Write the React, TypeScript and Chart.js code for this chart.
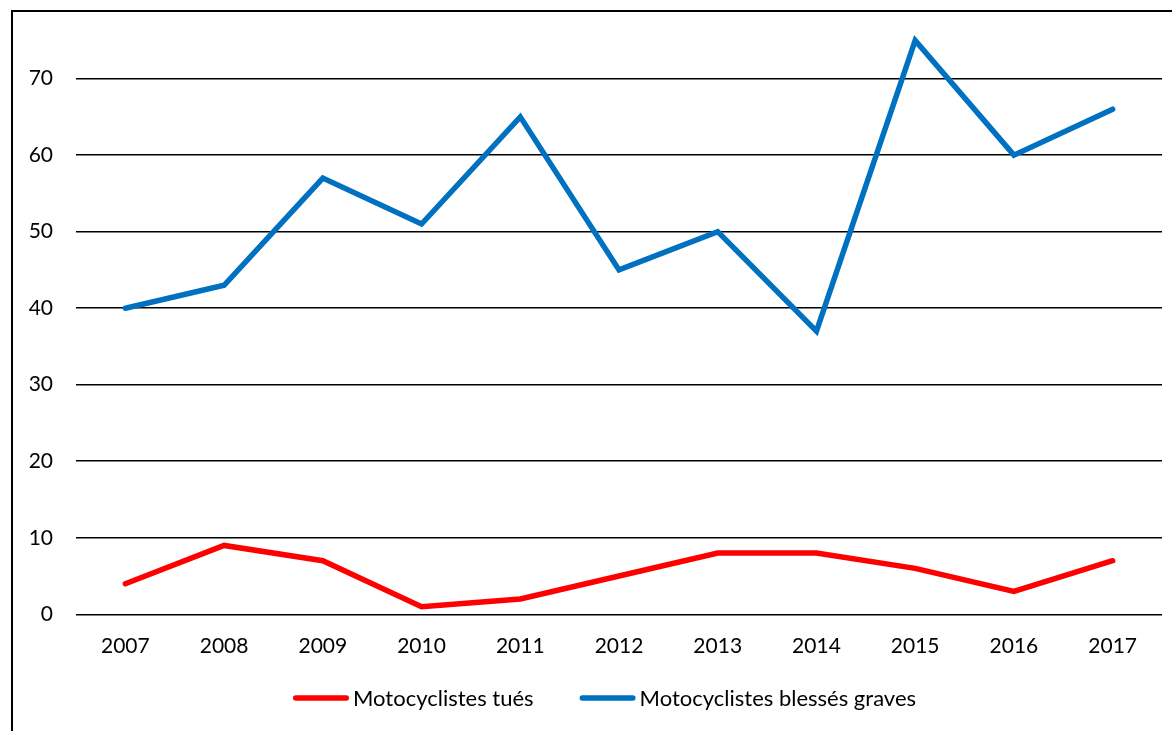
import React, { useEffect, useRef } from "react";
import { Chart, registerables } from "chart.js";

Chart.register(...registerables);

const years = ["2007", "2008", "2009", "2010", "2011", "2012", "2013", "2014", "2015", "2016", "2017"];
const tues = [4, 9, 7, 1, 2, 5, 8, 8, 6, 3, 7];
const blesses = [40, 43, 57, 51, 65, 45, 50, 37, 75, 60, 66];
const seriesNames = ["Motocyclistes tués", "Motocyclistes blessés graves"];
const seriesColors = ["#FF0000", "#0070C0"];
const yStep = 10;

const FONT = "Lato, 'Open Sans', sans-serif";
const LINE_W = 5.5;

const framePlugin = {
  id: "frame",
  afterDraw(chart: any) {
    const ctx = chart.ctx;
    ctx.save();
    ctx.strokeStyle = "#000";
    ctx.lineWidth = 2;
    ctx.strokeRect(12, 11, chart.width + 20, chart.height + 20);
    ctx.restore();
  },
};

// Legend drawn from the datasets (line sample + label), centred under the chart
const legendPlugin = {
  id: "lineLegend",
  afterDraw(chart: any) {
    const ctx = chart.ctx;
    const sets = chart.data.datasets;
    const lineLen = 56;
    const gapText = 4;
    const gapItem = 46;
    const centerX = 604.5;
    const lineY = 698;
    const baseY = 706;
    ctx.save();
    ctx.font = `22px ${FONT}`;
    const widths = sets.map((d: any) => ctx.measureText(d.label).width);
    let total = 0;
    widths.forEach((w: number, i: number) => {
      total += lineLen + gapText + w + (i < widths.length - 1 ? gapItem : 0);
    });
    let x = centerX - total / 2;
    sets.forEach((d: any, i: number) => {
      ctx.strokeStyle = d.borderColor;
      ctx.lineWidth = LINE_W;
      ctx.lineCap = "round";
      ctx.beginPath();
      ctx.moveTo(x + 2.75, lineY);
      ctx.lineTo(x + lineLen - 2.75, lineY);
      ctx.stroke();
      x += lineLen + gapText;
      ctx.fillStyle = "#000";
      ctx.textAlign = "left";
      ctx.textBaseline = "alphabetic";
      ctx.fillText(d.label, x, baseY);
      x += widths[i] + gapItem;
    });
    ctx.restore();
  },
};

export default function App() {
  const ref = useRef<HTMLCanvasElement | null>(null);
  useEffect(() => {
    document.body.style.margin = "0";
    const canvas = ref.current!;
    const chart = new Chart(canvas, {
      type: "line",
      data: {
        labels: years,
        datasets: [
          {
            label: seriesNames[0],
            data: tues,
            borderColor: seriesColors[0],
            backgroundColor: seriesColors[0],
            borderWidth: LINE_W,
            borderCapStyle: "round",
            borderJoinStyle: "miter",
            pointRadius: 0,
            tension: 0,
          },
          {
            label: seriesNames[1],
            data: blesses,
            borderColor: seriesColors[1],
            backgroundColor: seriesColors[1],
            borderWidth: LINE_W,
            borderCapStyle: "round",
            borderJoinStyle: "miter",
            pointRadius: 0,
            tension: 0,
          },
        ],
      },
      options: {
        animation: false,
        responsive: false,
        devicePixelRatio: 1,
        layout: { padding: { left: 0, right: 10, top: 17.4, bottom: 53.5 } },
        plugins: {
          tooltip: { enabled: false },
          legend: { display: false },
        },
        scales: {
          x: {
            offset: true,
            grid: { display: false, drawTicks: false },
            border: { display: false },
            ticks: {
              color: "#000",
              padding: 19,
              maxRotation: 0,
              font: { family: FONT, size: 21 },
            },
            afterFit(scale: any) {
              scale.height = 63.2;
            },
          },
          y: {
            min: 0,
            max: 78,
            bounds: "data",
            grid: {
              color: "#000",
              lineWidth: 1.5,
              drawTicks: true,
              tickLength: 23,
              tickColor: "rgba(0,0,0,0)",
            },
            border: { display: false },
            ticks: {
              stepSize: yStep,
              includeBounds: false,
              color: "#000",
              padding: 0,
              font: { family: FONT, size: 21 },
            },
            afterBuildTicks(scale: any) {
              scale.ticks = scale.ticks.filter((t: any) => t.value % yStep === 0);
            },
            afterFit(scale: any) {
              scale.width = 76;
            },
          },
        },
      },
      plugins: [framePlugin, legendPlugin],
    });
    return () => chart.destroy();
  }, []);
  return (
    <div style={{ position: "fixed", left: 0, top: 0, width: 1172, height: 731, background: "#fff" }}>
      <canvas ref={ref} width={1172} height={731} />
    </div>
  );
}
